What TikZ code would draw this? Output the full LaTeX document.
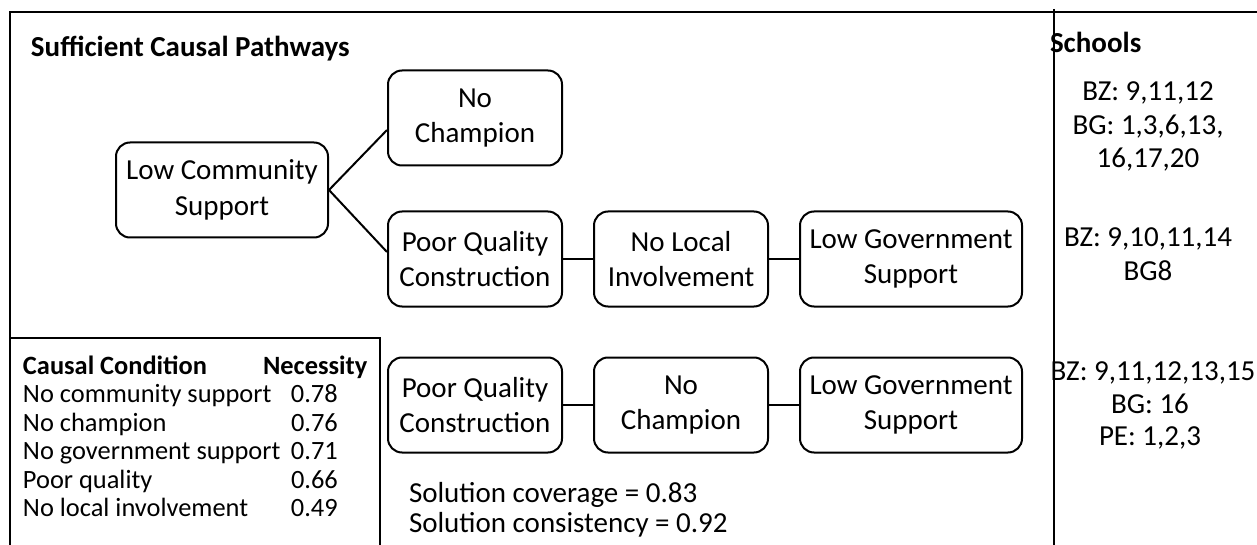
\documentclass[tikz,border=0pt]{standalone}
\usepackage{fontspec}
\setmainfont{Carlito}
\usepackage{tikz}
\usetikzlibrary{positioning}

\begin{document}
\begin{tikzpicture}[main/.style = {draw, rounded corners=7pt, align=center, minimum width=87pt, minimum height=47.5pt},
  wide/.style = {main, minimum width=111pt},
  txt/.style = {anchor=base west, inner sep=0pt},
  sch/.style = {anchor=base, inner sep=0pt},
  x=0.5pt, y=-0.5pt, line width=1pt, node distance=15pt,
  font=\fontsize{14.5}{17.7}\selectfont]
\useasboundingbox (0,0) rectangle (1257,545);
% frame
\draw (10,545) -- (10,12) -- (1257,12);
\draw (10,338) -- (380,338) -- (380,545);
\draw (1054,9) -- (1054,545);
\node[txt] (title) at (30,57) {\textbf{Sufficient Causal Pathways}};
\node[txt] (schools) at (1049,53) {\textbf{Schools}};
% pathways
\node[main, minimum width=106pt] (1) at (222,190) {Low Community\\Support};
\node[main] (3) at (475,259) {Poor Quality\\Construction};
\node[main] (2) [above=22pt of 3] {No\\Champion};
\node[main] (4) [right=of 3] {No Local\\Involvement};
\node[wide] (5) [right=of 4] {Low Government\\Support};
\node[main] (6) [below=24.5pt of 3] {Poor Quality\\Construction};
\node[main] (7) [right=of 6] {No\\Champion};
\node[wide] (8) [right=of 7] {Low Government\\Support};
\path (1.east) edge ([yshift=-6pt]2.west);
\path (1.east) edge ([yshift=3.5pt]3.west);
\path (3) edge (4);
\path (4) edge (5);
\path (6) edge (7);
\path (7) edge (8);
% schools
\node[sch] (s1) at (1148,101) {BZ: 9,11,12};
\node[sch] (s2) at (1148,135) {BG: 1,3,6,13,};
\node[sch] (s3) at (1148,168) {16,17,20};
\node[sch] (s4) at (1148,247) {BZ: 9,10,11,14};
\node[sch] (s5) at (1148,280) {BG8};
\node[sch] (s6) at (1153,380) {BZ: 9,11,12,13,15};
\node[sch] (s7) at (1150,413) {BG: 16};
\node[sch] (s8) at (1150,445) {PE: 1,2,3};
% solution
\node[txt] (cov) at (408,502) {Solution coverage = 0.83};
\node[txt] (con) at (408,532) {Solution consistency = 0.92};
% necessity table
\node[txt, font=\fontsize{13.2}{14.25}\selectfont] (tab) at (22,374) {\begin{tabular}[t]{@{}p{134pt}@{}l@{}}
\textbf{Causal Condition} & \hspace{-14pt}\textbf{Necessity}\\
No community support & 0.78\\
No champion & 0.76\\
No government support & 0.71\\
Poor quality & 0.66\\
No local involvement & 0.49
\end{tabular}};
\end{tikzpicture}
\end{document}
